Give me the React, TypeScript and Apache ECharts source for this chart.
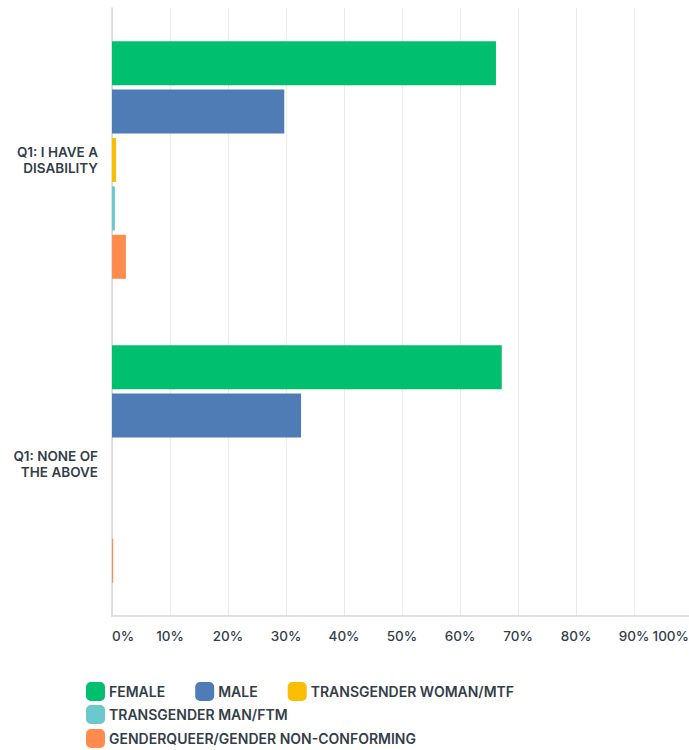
import React, { useEffect, useRef } from "react";
import * as echarts from "echarts";

const categories = ["Q1: I HAVE A\nDISABILITY", "Q1: NONE OF\nTHE ABOVE"];
const seriesNames = [
  "FEMALE",
  "MALE",
  "TRANSGENDER WOMAN/MTF",
  "TRANSGENDER MAN/FTM",
  "GENDERQUEER/GENDER NON-CONFORMING",
];
const female = [66.2, 67.2];
const male = [29.7, 32.6];
const transWoman = [0.7, 0];
const transMan = [0.5, 0];
const genderqueer = [2.4, 0.2];
const xTicks = [0, 10, 20, 30, 40, 50, 60, 70, 80, 90, 100];
const colors = ["#00BF6F", "#507CB6", "#F9BE00", "#6BC8CD", "#FF8B4F"];

const FONT = "Inter, 'Noto Sans', sans-serif";
const TEXT = "#333e48";

export default function App() {
  const ref = useRef<HTMLDivElement>(null);
  useEffect(() => {
    if (!ref.current) return;
    const chart = echarts.init(ref.current, null, { renderer: "svg" });
    const values = [female, male, transWoman, transMan, genderqueer];
    const legendBase = {
      orient: "horizontal",
      left: 86,
      padding: 0,
      itemWidth: 19,
      itemHeight: 19,
      itemGap: 30,
      icon: "roundRect",
      selectedMode: false,
      textStyle: { color: TEXT, fontSize: 14, fontWeight: 600, fontFamily: FONT, padding: [0, 0, 0, -1] },
    };
    const tickFont = { color: TEXT, fontSize: 13.5, fontWeight: 500, fontFamily: FONT };
    chart.setOption({
      animation: false,
      color: colors,
      grid: {
        left: 112,
        top: 8,
        width: 580,
        height: 608,
        containLabel: false,
        outerBoundsMode: "none",
      },
      legend: [
        { ...legendBase, top: 682, data: seriesNames.slice(0, 3) },
        { ...legendBase, top: 705, data: [seriesNames[3]] },
        { ...legendBase, top: 729, data: [seriesNames[4]] },
      ],
      xAxis: {
        type: "value",
        min: 0,
        max: 100,
        interval: 10,
        axisLine: { show: true, lineStyle: { color: "#d6d6d6", width: 1.5 } },
        axisTick: { show: false },
        splitLine: { show: true, lineStyle: { color: "#ececec", width: 1 } },
        axisLabel: {
          margin: 13,
          ...tickFont,
          alignMinLabel: "left",
          alignMaxLabel: "right",
          customValues: xTicks,
          formatter: (v: number) => (v === 100 ? `{m|${v}%}` : `${v}%`),
          rich: { m: { ...tickFont, padding: [0, 3, 0, 0] } },
        },
      },
      yAxis: {
        type: "category",
        inverse: true,
        data: categories,
        axisLine: { show: true, lineStyle: { color: "#d6d6d6", width: 1.5 } },
        axisTick: { show: false },
        axisLabel: {
          margin: 14,
          color: TEXT,
          fontSize: 13.5,
          fontWeight: 600,
          fontFamily: FONT,
          lineHeight: 16,
          align: "right",
        },
      },
      series: seriesNames.map((name, i) => ({
        name,
        type: "bar",
        data: values[i],
        barWidth: 44,
        barGap: "10%",
        itemStyle: { color: colors[i] },
      })),
    });
    return () => chart.dispose();
  }, []);
  return (
    <div
      ref={ref}
      style={{ position: "absolute", left: 0, top: 0, width: 689, height: 750 }}
    />
  );
}
